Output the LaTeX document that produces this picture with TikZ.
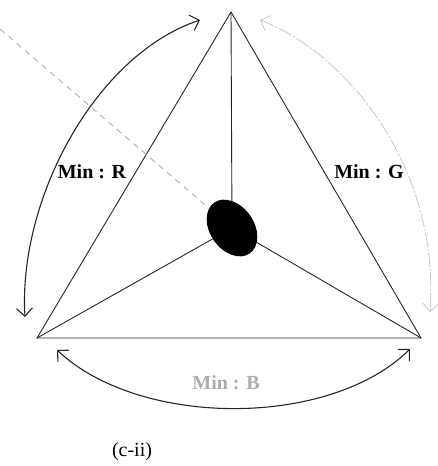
\documentclass[tikz,border=0pt]{standalone}
\usepackage{fontspec}
\setmainfont{Liberation Serif}
\usetikzlibrary{arrows.meta,shapes.geometric}
\begin{document}
\begin{tikzpicture}[x=1pt,y=-1pt,
  edge/.style={draw=black!85,line width=0.9pt},
  arc/.style={draw=black!85,line width=1.1pt,{Straight Barb[length=8pt,width=16pt]}-{Straight Barb[length=8pt,width=16pt]}},
  lbl/.style={font=\bfseries\fontsize{20}{22}\selectfont},
]
\useasboundingbox (0,0) rectangle (437,466);
\coordinate (top) at (231,12);
\coordinate (L) at (37,338);
\coordinate (R) at (421,338);
\node[ellipse,fill=black,rotate=-55,minimum width=62pt,minimum height=44pt,inner sep=0pt] (C) at (232,228) {};
\coordinate (dstart) at (0,29);
\draw[edge] (top) -- (L) -- (R) -- cycle;
\draw[edge] (top) -- (C);
\draw[edge] (L) -- (C);
\draw[edge] (R) -- (C);
\draw[gray!70,line width=0.8pt,dash pattern=on 6pt off 5pt] (dstart) -- (C);
\coordinate (a1) at (25,317);
\coordinate (a2) at (200,20);
\draw[arc] (a1) .. controls (18,200) and (95,55) .. (a2);
\coordinate (b1) at (260,20);
\coordinate (b2) at (430,312);
\draw[arc,draw=gray!45,line width=0.8pt,dash pattern=on 14pt off 2pt on 2pt off 2pt] (b1) .. controls (350,55) and (440,170) .. (b2);
\coordinate (c1) at (57,350);
\coordinate (c2) at (410,349);
\draw[arc] (c1) .. controls (140,428) and (330,428) .. (c2);
\node[lbl] (mr) at (92,172) {Min : R};
\node[lbl] (mg) at (369,172) {Min : G};
\node[lbl,text=gray!65] (mb) at (226,383) {Min : B};
\node[font=\fontsize{20}{22}\selectfont] (cap) at (132,452) {(c-ii)};
\end{tikzpicture}
\end{document}
